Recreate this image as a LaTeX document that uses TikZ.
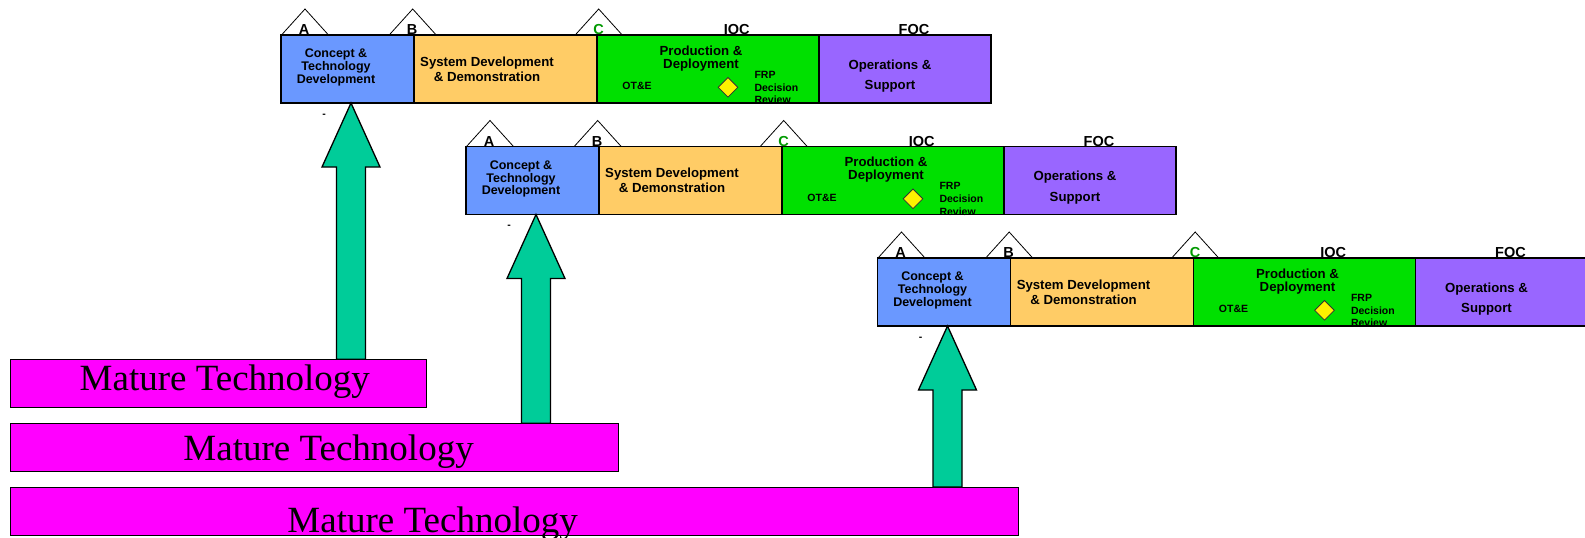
\documentclass[tikz,border=0pt]{standalone}
\usepackage{fontspec}
\setmainfont{Liberation Serif}
\setsansfont{Liberation Sans}
\usetikzlibrary{shapes.geometric,calc}

\definecolor{conceptblue}{HTML}{6A98FF}
\definecolor{sysorange}{HTML}{FFCC66}
\definecolor{prodgreen}{HTML}{00E000}
\definecolor{opspurple}{HTML}{9966FF}
\definecolor{mtmagenta}{HTML}{FF00FF}
\definecolor{arrowgreen}{HTML}{00CC99}
\definecolor{cgreen}{HTML}{009900}

\tikzset{
  phase/.style={shape=rectangle,draw=black,line width=1.2pt,anchor=north west,inner sep=0pt,outer sep=0pt,minimum height=68pt},
  phasetext/.style={align=center,inner sep=0pt,font=\sffamily\bfseries\fontsize{13.2}{13}\selectfont},
  smalltext/.style={align=left,inner sep=0pt,font=\sffamily\bfseries\fontsize{10.5}{12.6}\selectfont},
  milestone/.style={draw=black,line width=0.8pt},
  milestonelabel/.style={anchor=base,inner sep=0pt,font=\sffamily\bfseries\fontsize{14.5}{16}\selectfont},
  frpdiamond/.style={shape=diamond,draw=black!80,line width=0.8pt,fill=yellow,minimum width=20pt,minimum height=20pt,inner sep=0pt},
  mtbox/.style={shape=rectangle,draw=black,line width=0.9pt,fill=mtmagenta,anchor=north west,inner sep=0pt,outer sep=0pt,minimum height=48.4pt},
  mttext/.style={anchor=base,inner sep=0pt,font=\fontsize{37}{40}\selectfont},
  blockarrow/.style={draw=black,line width=1.3pt,fill=arrowgreen,line join=miter}
}

\begin{document}
\begin{tikzpicture}[x=1pt,y=-1pt]
    \useasboundingbox (0,0) rectangle (1585,538);

    % mature technology bars
    \node[mtbox,minimum width=416.7pt] (mt1) at (10,359.3) {};
    \node[mtbox,minimum width=608.7pt] (mt2) at (10,423.3) {};
    \node[mtbox,minimum width=1008.3pt] (mt3) at (10,487) {};
    \node[mttext] (mt1t) at (224.8,390) {Mature Technology};
    \node[mttext] (mt2t) at (328.6,460) {Mature Technology};
    \node[mttext] (mt3t) at (432.6,532.7) {Mature Technology};

    % first program
    \node[phase,fill=conceptblue,minimum width=133pt] (cd1) at (281,35) {};
    \node[phase,fill=sysorange,minimum width=183pt] (sdd1) at (414,35) {};
    \node[phase,fill=prodgreen,minimum width=222pt] (pd1) at (597,35) {};
    \node[phase,fill=opspurple,minimum width=172pt] (os1) at (819,35) {};
    \draw[milestone] (281.5,35) -- (305,9) -- (328.5,35) -- cycle;
    \draw[milestone] (389.2,35) -- (412.7,9) -- (436.2,35) -- cycle;
    \draw[milestone] (575.2,35) -- (598.7,9) -- (622.2,35) -- cycle;
    \node[milestonelabel] (a1) at (304,34.5) {A};
    \node[milestonelabel] (b1) at (412,34.5) {B};
    \node[milestonelabel,text=cgreen] (c1) at (598.5,34.5) {C};
    \node[milestonelabel] (ioc1) at (736.7,34.5) {IOC};
    \node[milestonelabel] (foc1) at (914,34.5) {FOC};
    \node[phasetext,font=\sffamily\bfseries\fontsize{12.5}{11.3}\selectfont] (cd1t) at (336,67.5) {Concept \&\\Technology\\Development};
    \node[phasetext,font=\sffamily\bfseries\fontsize{13.2}{15}\selectfont] (sdd1t) at (487,69) {System Development\\\& Demonstration};
    \node[phasetext] (pd1t) at (701,58.5) {Production \&\\Deployment};
    \node[phasetext,font=\sffamily\bfseries\fontsize{13.2}{20.3}\selectfont] (os1t) at (890,76) {Operations \&\\Support};
    \node[smalltext] (ote1) at (637,86) {OT\&E};
    \node[frpdiamond] (frp1d) at (728,87.3) {};
    \node[smalltext,anchor=west] (frp1) at (754.3,87.5) {FRP\\Decision\\Review};
    \node[smalltext] (dash1) at (324,115.7) {-};

    % second program
    \begin{scope}[shift={(185,111.5)}]
    \node[phase,fill=conceptblue,minimum width=133pt] (cd2) at (281,35) {};
    \node[phase,fill=sysorange,minimum width=183pt] (sdd2) at (414,35) {};
    \node[phase,fill=prodgreen,minimum width=222pt] (pd2) at (597,35) {};
    \node[phase,fill=opspurple,minimum width=172pt] (os2) at (819,35) {};
    \draw[milestone] (281.5,35) -- (305,9) -- (328.5,35) -- cycle;
    \draw[milestone] (389.2,35) -- (412.7,9) -- (436.2,35) -- cycle;
    \draw[milestone] (575.2,35) -- (598.7,9) -- (622.2,35) -- cycle;
    \node[milestonelabel] (a2) at (304,34.5) {A};
    \node[milestonelabel] (b2) at (412,34.5) {B};
    \node[milestonelabel,text=cgreen] (c2) at (598.5,34.5) {C};
    \node[milestonelabel] (ioc2) at (736.7,34.5) {IOC};
    \node[milestonelabel] (foc2) at (914,34.5) {FOC};
    \node[phasetext,font=\sffamily\bfseries\fontsize{12.5}{11.3}\selectfont] (cd2t) at (336,67.5) {Concept \&\\Technology\\Development};
    \node[phasetext,font=\sffamily\bfseries\fontsize{13.2}{15}\selectfont] (sdd2t) at (487,69) {System Development\\\& Demonstration};
    \node[phasetext] (pd2t) at (701,58.5) {Production \&\\Deployment};
    \node[phasetext,font=\sffamily\bfseries\fontsize{13.2}{20.3}\selectfont] (os2t) at (890,76) {Operations \&\\Support};
    \node[smalltext] (ote2) at (637,86) {OT\&E};
    \node[frpdiamond] (frp2d) at (728,87.3) {};
    \node[smalltext,anchor=west] (frp2) at (754.3,87.5) {FRP\\Decision\\Review};
    \node[smalltext] (dash2) at (324,115.7) {-};
    \end{scope}

    % third program
    \begin{scope}[shift={(596.5,223)}]
    \node[phase,fill=conceptblue,minimum width=133pt] (cd3) at (281,35) {};
    \node[phase,fill=sysorange,minimum width=183pt] (sdd3) at (414,35) {};
    \node[phase,fill=prodgreen,minimum width=222pt] (pd3) at (597,35) {};
    \node[phase,fill=opspurple,minimum width=172pt] (os3) at (819,35) {};
    \draw[milestone] (281.5,35) -- (305,9) -- (328.5,35) -- cycle;
    \draw[milestone] (389.2,35) -- (412.7,9) -- (436.2,35) -- cycle;
    \draw[milestone] (575.2,35) -- (598.7,9) -- (622.2,35) -- cycle;
    \node[milestonelabel] (a3) at (304,34.5) {A};
    \node[milestonelabel] (b3) at (412,34.5) {B};
    \node[milestonelabel,text=cgreen] (c3) at (598.5,34.5) {C};
    \node[milestonelabel] (ioc3) at (736.7,34.5) {IOC};
    \node[milestonelabel] (foc3) at (914,34.5) {FOC};
    \node[phasetext,font=\sffamily\bfseries\fontsize{12.5}{11.3}\selectfont] (cd3t) at (336,67.5) {Concept \&\\Technology\\Development};
    \node[phasetext,font=\sffamily\bfseries\fontsize{13.2}{15}\selectfont] (sdd3t) at (487,69) {System Development\\\& Demonstration};
    \node[phasetext] (pd3t) at (701,58.5) {Production \&\\Deployment};
    \node[phasetext,font=\sffamily\bfseries\fontsize{13.2}{20.3}\selectfont] (os3t) at (890,76) {Operations \&\\Support};
    \node[smalltext] (ote3) at (637,86) {OT\&E};
    \node[frpdiamond] (frp3d) at (728,87.3) {};
    \node[smalltext,anchor=west] (frp3) at (754.3,87.5) {FRP\\Decision\\Review};
    \node[smalltext] (dash3) at (324,115.7) {-};
    \end{scope}

    % block arrows from the mature technology up to each program
    \coordinate (tip1) at ([xshift=3.5pt]cd1.south);
    \coordinate (foot1) at (tip1 |- mt1.north);
    \draw[blockarrow] (tip1) -- ++(29,64) -- ++(-14.5,0) -- ([xshift=14.5pt]foot1) -- ([xshift=-14.5pt]foot1) -- ($(tip1)+(-14.5,64)$) -- ++(-14.5,0) -- cycle;
    \coordinate (tip2) at ([xshift=3.5pt]cd2.south);
    \coordinate (foot2) at (tip2 |- mt2.north);
    \draw[blockarrow] (tip2) -- ++(29,64) -- ++(-14.5,0) -- ([xshift=14.5pt]foot2) -- ([xshift=-14.5pt]foot2) -- ($(tip2)+(-14.5,64)$) -- ++(-14.5,0) -- cycle;
    \coordinate (tip3) at ([xshift=3.5pt]cd3.south);
    \coordinate (foot3) at (tip3 |- mt3.north);
    \draw[blockarrow] (tip3) -- ++(29,64) -- ++(-14.5,0) -- ([xshift=14.5pt]foot3) -- ([xshift=-14.5pt]foot3) -- ($(tip3)+(-14.5,64)$) -- ++(-14.5,0) -- cycle;
\end{tikzpicture}
\end{document}
